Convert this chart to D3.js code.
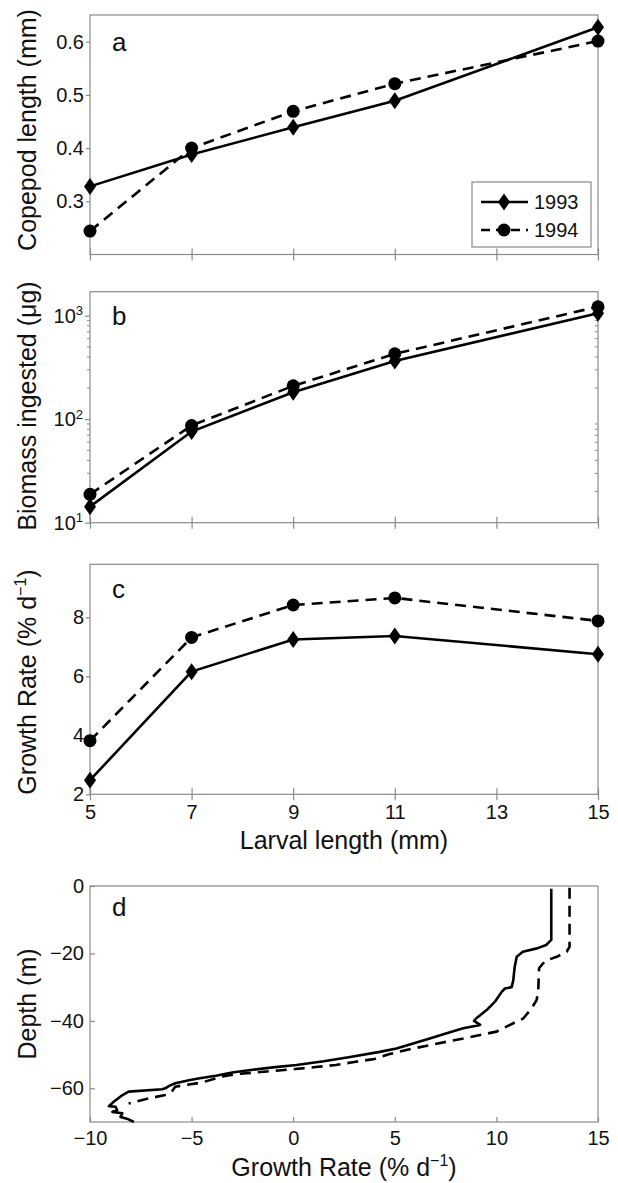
<!DOCTYPE html>
<html>
    <head>
        <script src="https://d3js.org/d3.v7.min.js"></script>
        <style>
            body { margin: 0; background: #fff; }
            text { font-family: 'Liberation Sans', Arial, Helvetica, sans-serif; }
        </style>
    </head>
    <body>
        <svg height='1183' width='618'></svg>

        <script>
            // larval length (mm) and the three per-length series
            const larvalLength = [5, 7, 9, 11, 15];
            const xTicks = [5, 7, 9, 11, 13, 15];

            const copepod1993 = [0.328, 0.388, 0.439, 0.489, 0.627];
            const copepod1994 = [0.244, 0.400, 0.469, 0.521, 0.601];

            const biomass1993 = [14.3, 76, 182, 366, 1056];
            const biomass1994 = [18.8, 87, 210, 428, 1222];

            const growth1993 = [2.48, 6.16, 7.25, 7.37, 6.75];
            const growth1994 = [3.82, 7.32, 8.42, 8.66, 7.88];

            // depth profiles (panel d)
            const profileGrowth1993 = [12.7, 12.7, 12.45, 12.0, 11.3, 11.0, 10.9, 10.83, 10.75, 10.42, 10.26, 9.93, 9.52, 9.0, 8.9, 9.2, 8.37, 7.55, 6.72, 5.9, 5.08, 4.26, 2.8, 1.5, 0.16, -1.0, -2.1, -3.0, -3.8, -4.6, -5.13, -5.8, -6.1, -6.3, -6.45, -8.1, -8.4, -8.83, -9.07, -8.74, -8.66, -8.9, -8.41, -8.5, -8.1, -7.84];
            const profileDepth1993 = [-0.8, -16.0, -17.5, -18.5, -19.5, -21.0, -24, -28, -30, -30.4, -31.4, -34.3, -36.8, -39.3, -40, -41.2, -42.2, -43.7, -45.2, -46.7, -48.2, -49.2, -50.7, -52, -53.1, -53.8, -54.6, -55.3, -56.3, -57.0, -57.6, -58.5, -59.3, -60.0, -60.3, -61.0, -62.0, -64.0, -65.3, -65.5, -66.5, -67.0, -67.4, -68.5, -69.2, -70];

            const profileGrowth1994 = [13.6, 13.6, 13.46, 12.97, 12.4, 12.1, 12.06, 11.98, 11.73, 11.32, 10.83, 10.0, 9.2, 8.4, 7.55, 5.9, 4.7, 4.0, 3.0, 2.1, 1.1, 0.1, -1.3, -2.8, -3.5, -4.5, -5.8, -6.0, -6.3, -7.1, -8.1];
            const profileDepth1994 = [-0.5, -18.0, -19.5, -21.0, -22.2, -24.4, -31, -33.8, -36.3, -39.3, -40.7, -43.2, -44.2, -45.2, -46.2, -48.2, -49.9, -51.3, -52.2, -53.1, -53.7, -54.3, -55.0, -55.8, -56.5, -58.3, -59.5, -61.2, -62, -63, -64.5];

            const svg = d3.select('svg');
            const left = 90, right = 598;
            const frameColor = '#8a8a8a';
            const dash = '11,7';

            const x = d3.scaleLinear().domain([5, 15]).range([left, right]);

            const frame = (top, bottom) => {
                svg.append('rect')
                    .attr('x', left).attr('y', top)
                    .attr('width', right - left).attr('height', bottom - top)
                    .attr('fill', 'none').attr('stroke', frameColor).attr('stroke-width', 1.2);
            };

            const styleAxis = g => {
                g.select('.domain').remove();
                g.selectAll('.tick line').attr('stroke', frameColor).attr('stroke-width', 1.2);
                g.selectAll('.tick text').attr('fill', '#111').attr('font-size', 20)
                    .style('font-family', "'Liberation Sans', Arial, Helvetica, sans-serif");
            };

            const diamond = 'M0,-8.5L6,0L0,8.5L-6,0Z';

            const drawSeries = (y, values, dashed) => {
                const pts = larvalLength.map((d, i) => [x(d), y(values[i])]);
                svg.append('path')
                    .attr('d', d3.line()(pts))
                    .attr('fill', 'none').attr('stroke', '#000').attr('stroke-width', 2.6)
                    .attr('stroke-dasharray', dashed ? dash : null);
                const m = svg.append('g').selectAll('.m').data(pts).enter();
                if (dashed) {
                    m.append('circle').attr('cx', d => d[0]).attr('cy', d => d[1]).attr('r', 6.5).attr('fill', '#000');
                } else {
                    m.append('path').attr('d', diamond).attr('transform', d => `translate(${d[0]},${d[1]})`).attr('fill', '#000');
                }
            };

            const xAxisBottom = (bottom, labels) => {
                const g = svg.append('g').attr('transform', `translate(0,${bottom})`)
                    .call(d3.axisBottom(x).tickValues(xTicks).tickSizeInner(6).tickSizeOuter(0).tickPadding(5)
                        .tickFormat(labels ? d3.format('d') : ''));
                styleAxis(g);
                g.selectAll('.tick line').attr('y1', -6);
            };

            const yLabel = (text, cy) => svg.append('text')
                .attr('transform', `translate(36,${cy}) rotate(-90)`)
                .attr('text-anchor', 'middle').attr('font-size', 25).attr('fill', '#111')
                .text(text);

            const panelLetter = (letter, baseline) => svg.append('text')
                .attr('x', 112).attr('y', baseline).attr('font-size', 26).attr('fill', '#111').text(letter);

            // ---- panel a
            const ya = d3.scaleLinear().domain([0.2, 0.65]).range([254.5, 15]);
            frame(15, 254.5);
            styleAxis(svg.append('g').attr('transform', `translate(${left},0)`)
                .call(d3.axisLeft(ya).tickValues([0.3, 0.4, 0.5, 0.6]).tickSizeInner(4).tickSizeOuter(0).tickPadding(2).tickFormat(d3.format('.1f'))));
            xAxisBottom(254.5, false);
            drawSeries(ya, copepod1993, false);
            drawSeries(ya, copepod1994, true);
            yLabel('Copepod length (mm)', 130);
            panelLetter('a', 51);

            // legend
            const legend = svg.append('g').attr('transform', 'translate(472,182)');
            legend.append('rect').attr('width', 119).attr('height', 65)
                .attr('fill', '#fff').attr('stroke', frameColor).attr('stroke-width', 1.2);
            [['1993', false, 20], ['1994', true, 48]].forEach(([name, dashed, ly]) => {
                legend.append('line').attr('x1', 9).attr('x2', 56).attr('y1', ly).attr('y2', ly)
                    .attr('stroke', '#000').attr('stroke-width', 2.6).attr('stroke-dasharray', dashed ? '9,6' : null);
                if (dashed) legend.append('circle').attr('cx', 32).attr('cy', ly).attr('r', 6.5);
                else legend.append('path').attr('d', diamond).attr('transform', `translate(32,${ly})`);
                legend.append('text').attr('x', 62).attr('y', ly + 7).attr('font-size', 20).attr('fill', '#111').text(name);
            });

            // ---- panel b
            const yb = d3.scaleLog().domain([10, 1707]).range([522.7, 291.7]);
            frame(291.7, 522.7);
            const minors = [20, 30, 40, 50, 60, 70, 80, 90, 200, 300, 400, 500, 600, 700, 800, 900];
            svg.append('g').selectAll('line').data(minors).enter().append('line')
                .attr('x1', left - 3).attr('x2', left).attr('y1', d => yb(d)).attr('y2', d => yb(d))
                .attr('stroke', frameColor).attr('stroke-width', 1);
            svg.append('g').selectAll('line').data(minors).enter().append('line')
                .attr('x1', right - 3).attr('x2', right).attr('y1', d => yb(d)).attr('y2', d => yb(d))
                .attr('stroke', frameColor).attr('stroke-width', 1);
            const gb = svg.append('g').attr('transform', `translate(${left},0)`)
                .call(d3.axisLeft(yb).tickValues([10, 100, 1000]).tickSizeInner(5).tickSizeOuter(0).tickPadding(2).tickFormat(''));
            styleAxis(gb);
            gb.selectAll('.tick text').text('10')
                .append('tspan').attr('dy', '-0.55em').attr('font-size', 13).text(d => Math.round(Math.log10(d)));
            xAxisBottom(522.7, false);
            drawSeries(yb, biomass1993, false);
            drawSeries(yb, biomass1994, true);
            yLabel('Biomass ingested (μg)', 406);
            panelLetter('b', 325);

            // ---- panel c
            const yc = d3.scaleLinear().domain([2, 9.8]).range([794.3, 564.3]);
            frame(564.3, 794.3);
            styleAxis(svg.append('g').attr('transform', `translate(${left},0)`)
                .call(d3.axisLeft(yc).tickValues([2, 4, 6, 8]).tickSizeInner(4).tickSizeOuter(0).tickPadding(2)));
            xAxisBottom(794.3, true);
            drawSeries(yc, growth1993, false);
            drawSeries(yc, growth1994, true);
            const lc = yLabel('Growth Rate (% d', 682);
            lc.append('tspan').attr('dy', -10).attr('font-size', 16).text('−1');
            lc.append('tspan').attr('dy', 10).text(')');
            panelLetter('c', 598);
            svg.append('text').attr('x', (left + right) / 2).attr('y', 849)
                .attr('text-anchor', 'middle').attr('font-size', 25).attr('fill', '#111').text('Larval length (mm)');

            // ---- panel d
            const xd = d3.scaleLinear().domain([-10, 15]).range([left, right]);
            const yd = d3.scaleLinear().domain([-70, 0]).range([1122, 886]);
            frame(886, 1122);
            styleAxis(svg.append('g').attr('transform', `translate(${left},0)`)
                .call(d3.axisLeft(yd).tickValues([0, -20, -40, -60]).tickSizeInner(-5).tickSizeOuter(0).tickPadding(6)));
            styleAxis(svg.append('g').attr('transform', 'translate(0,1122)')
                .call(d3.axisBottom(xd).tickValues([-10, -5, 0, 5, 10, 15]).tickSizeInner(-5).tickSizeOuter(0).tickPadding(9)));

            const profileLine = d3.line().x(d => xd(d[0])).y(d => yd(d[1]));
            svg.append('path')
                .attr('d', profileLine(profileGrowth1993.map((g, i) => [g, profileDepth1993[i]])))
                .attr('fill', 'none').attr('stroke', '#000').attr('stroke-width', 2.6).attr('stroke-linejoin', 'round');
            svg.append('path')
                .attr('d', profileLine(profileGrowth1994.map((g, i) => [g, profileDepth1994[i]])))
                .attr('fill', 'none').attr('stroke', '#000').attr('stroke-width', 2.6).attr('stroke-dasharray', dash);

            yLabel('Depth (m)', 1004);
            panelLetter('d', 916);
            const ld = svg.append('text').attr('x', (left + right) / 2).attr('y', 1176)
                .attr('text-anchor', 'middle').attr('font-size', 25).attr('fill', '#111').text('Growth Rate (% d');
            ld.append('tspan').attr('dy', -10).attr('font-size', 16).text('−1');
            ld.append('tspan').attr('dy', 10).text(')');
        </script>
    </body>
</html>
